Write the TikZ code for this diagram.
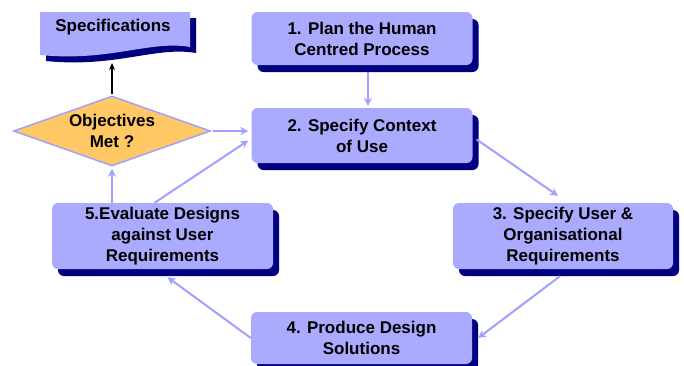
\documentclass[tikz,border=0pt]{standalone}
\usepackage{fontspec}
\setmainfont{Liberation Sans}
\usepackage[dvipsnames]{xcolor}
\usetikzlibrary{shapes.geometric,shadows,arrows.meta}

\definecolor{boxfill}{RGB}{170,170,255}
\definecolor{boxshade}{RGB}{0,0,128}
\definecolor{flowline}{RGB}{160,160,255}
\definecolor{decisionfill}{RGB}{255,200,100}

\begin{document}
\begin{tikzpicture}[x=1pt,y=1pt,->,>={Stealth[length=8pt,width=8pt]},
    step box/.style={rectangle,rounded corners=6pt,fill=boxfill,align=center,
        minimum width=221pt,inner sep=0pt,font=\bfseries\fontsize{17}{21}\selectfont,
        drop shadow={shadow xshift=6pt,shadow yshift=-7pt,fill=boxshade,opacity=1}},
    decision node/.style={diamond,draw=flowline,fill=decisionfill,line width=1.5pt,
        minimum width=197pt,minimum height=70pt,inner sep=0pt,aspect=2.8},
    every edge/.style={draw=flowline,line width=2pt}]
            \useasboundingbox (0,0) rectangle (684,-365);

            % specifications document
            \fill[boxshade] (46,-18) -- (196,-18) -- (196,-53)
                .. controls (156,-46) and (116,-68) .. (46,-61) -- cycle;
            \fill[boxfill] (40,-12) -- (190,-12) -- (190,-47)
                .. controls (150,-40) and (110,-62) .. (40,-55) -- cycle;
            \node[font=\bfseries\fontsize{17}{21}\selectfont] (spec) at (113,-27) {Specifications};
            \coordinate (specbase) at (112,-63);

            \node[step box,minimum height=53pt] (1) at (362,-38.5) {1. Plan the Human\\Centred Process};
            \node[step box,minimum height=55pt] (2) at (362,-135.5) {2. Specify Context\\of Use};
            \node[step box,minimum height=66pt,minimum width=220pt] (3) at (563,-236) {3. Specify User \&\\Organisational\\Requirements};
            \node[step box,minimum height=52pt] (4) at (361.5,-338) {4. Produce Design\\Solutions};
            \node[step box,minimum height=66pt] (5) at (162.5,-236) {5.Evaluate Designs\\against User\\Requirements};

            \node[decision node] (obj) at (112,-131) {};
            \node[font=\bfseries\fontsize{17}{21}\selectfont,align=center] (objtext) at (obj.center) {Objectives\\Met ?};

            \path
                ([xshift=6pt,yshift=-7pt]1.south) edge ([xshift=6pt,yshift=2pt]2.north)
                ([xshift=2pt]obj.east) edge ([xshift=-3pt]2.west |- obj.east)
                ([xshift=-8pt]5.north) edge ([xshift=-3pt,yshift=-5pt]2.west)
                (obj.south |- 5.north) edge ([yshift=-2pt]obj.south)
                ([xshift=4pt,yshift=-4pt]2.east) edge ([xshift=-5pt,yshift=7pt]3.north)
                ([xshift=-3pt,yshift=-7pt]3.south) edge ([xshift=6pt]4.east)
                (4.west) edge ([xshift=5pt,yshift=-8pt]5.south)
            ;
            \draw[black,line width=2.2pt,>={Stealth[length=7pt,width=6pt]}] ([yshift=1pt]obj.north) -- (specbase);
        \end{tikzpicture}
\end{document}
